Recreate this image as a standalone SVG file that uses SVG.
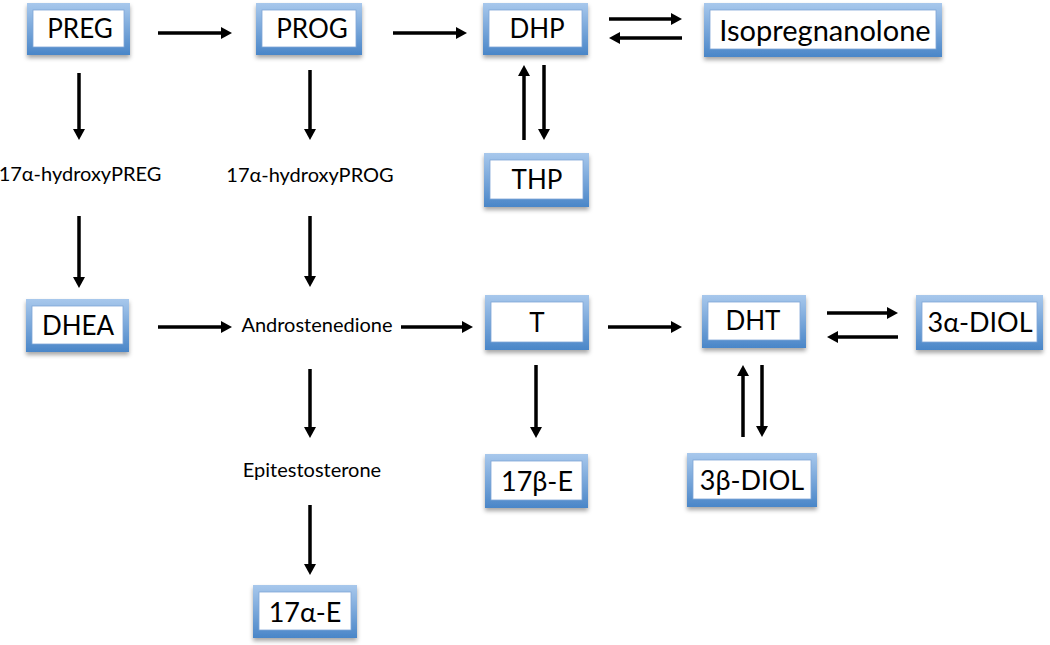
<svg xmlns="http://www.w3.org/2000/svg" width="1050" height="645" viewBox="0 0 1050 645">
<defs>
<linearGradient id="frame" x1="0" y1="0" x2="0" y2="1">
<stop offset="0" stop-color="#a8c8ec"/>
<stop offset="1" stop-color="#4a86c8"/>
</linearGradient>
<filter id="sh" x="-10%" y="-10%" width="120%" height="140%">
<feDropShadow dx="0" dy="3" stdDeviation="2" flood-color="#000" flood-opacity="0.35"/>
</filter>
<marker id="ah" markerUnits="userSpaceOnUse" markerWidth="11" markerHeight="12" viewBox="0 0 11 12" refX="0" refY="6" orient="auto">
<path d="M0,0 L11,6 L0,12 z" fill="#000"/>
</marker>
</defs>
<style>
.fr{fill:url(#frame);filter:url(#sh)}
.in{fill:#fff;stroke:#7fa6d6;stroke-width:0.8}
.bt{font-family:Lato,"Open Sans",sans-serif;font-size:26px;fill:#000;text-anchor:middle}
.st{font-family:Lato,"Open Sans",sans-serif;font-size:20px;fill:#000;text-anchor:middle}
.ar{stroke:#000;stroke-width:3.5;fill:none;marker-end:url(#ah)}
</style>
<rect width="1050" height="645" fill="#fff"/>

<g id="PREG"><rect class="fr" x="27" y="3" width="103" height="52"/><rect class="in" x="33" y="10" width="91" height="37"/><text class="bt" x="80" y="38">PREG</text></g>
<g id="PROG"><rect class="fr" x="256" y="3" width="106" height="52"/><rect class="in" x="262" y="10" width="94" height="37"/><text class="bt" x="312" y="38">PROG</text></g>
<g id="DHP"><rect class="fr" x="483" y="3" width="105" height="52"/><rect class="in" x="489" y="10" width="93" height="37"/><text class="bt" x="537" y="38">DHP</text></g>
<g id="Isopregnanolone"><rect class="fr" x="704" y="3" width="238" height="54"/><rect class="in" x="710" y="10" width="226" height="39"/><text class="bt" x="825" y="41" style="font-size:29px">Isopregnanolone</text></g>
<g id="THP"><rect class="fr" x="484" y="153" width="105" height="54"/><rect class="in" x="490" y="160" width="93" height="39"/><text class="bt" x="537" y="189">THP</text></g>
<g id="n17aOHPREG"><text class="st" x="80" y="181">17α-hydroxyPREG</text></g>
<g id="n17aOHPROG"><text class="st" x="310" y="182">17α-hydroxyPROG</text></g>
<g id="DHEA"><rect class="fr" x="26" y="299" width="103" height="53"/><rect class="in" x="32" y="306" width="91" height="38"/><text class="bt" x="78" y="335">DHEA</text></g>
<g id="Androstenedione"><text class="st" x="317" y="332">Androstenedione</text></g>
<g id="T"><rect class="fr" x="485" y="295" width="104" height="55"/><rect class="in" x="491" y="302" width="92" height="40"/><text class="bt" x="537" y="332">T</text></g>
<g id="DHT"><rect class="fr" x="702" y="295" width="104" height="53"/><rect class="in" x="708" y="302" width="92" height="38"/><text class="bt" x="753" y="330">DHT</text></g>
<g id="DIOL3a"><rect class="fr" x="916" y="295" width="127" height="55"/><rect class="in" x="922" y="302" width="115" height="40"/><text class="bt" x="980" y="332" style="font-size:27px">3α-DIOL</text></g>
<g id="Epitestosterone"><text class="st" x="312" y="477">Epitestosterone</text></g>
<g id="E17b"><rect class="fr" x="485" y="454" width="103" height="54"/><rect class="in" x="491" y="461" width="91" height="39"/><text class="bt" x="537" y="491" style="font-size:27px">17β-E</text></g>
<g id="DIOL3b"><rect class="fr" x="687" y="453" width="130" height="54"/><rect class="in" x="693" y="460" width="118" height="39"/><text class="bt" x="752" y="490" style="font-size:27px">3β-DIOL</text></g>
<g id="E17a"><rect class="fr" x="253" y="585" width="104" height="53"/><rect class="in" x="259" y="592" width="92" height="38"/><text class="bt" x="305" y="622" style="font-size:27px">17α-E</text></g>

<g id="connectors">
<line class="ar" x1="158" y1="33" x2="221" y2="33"/>
<line class="ar" x1="393" y1="33" x2="456" y2="33"/>
<line class="ar" x1="609" y1="19" x2="671" y2="19"/>
<line class="ar" x1="682" y1="38" x2="620" y2="38"/>
<line class="ar" x1="524" y1="140" x2="524" y2="76"/>
<line class="ar" x1="544" y1="65" x2="544" y2="129"/>
<line class="ar" x1="79" y1="73" x2="79" y2="129"/>
<line class="ar" x1="79" y1="216" x2="79" y2="277"/>
<line class="ar" x1="310" y1="70" x2="310" y2="129"/>
<line class="ar" x1="310" y1="216" x2="310" y2="276"/>
<line class="ar" x1="158" y1="327" x2="221" y2="327"/>
<line class="ar" x1="401" y1="327" x2="462" y2="327"/>
<line class="ar" x1="608" y1="327" x2="671" y2="327"/>
<line class="ar" x1="827" y1="313" x2="887" y2="313"/>
<line class="ar" x1="898" y1="337" x2="838" y2="337"/>
<line class="ar" x1="310" y1="369" x2="310" y2="427"/>
<line class="ar" x1="310" y1="505" x2="310" y2="564"/>
<line class="ar" x1="536" y1="365" x2="536" y2="427"/>
<line class="ar" x1="743" y1="437" x2="743" y2="376"/>
<line class="ar" x1="762" y1="365" x2="762" y2="426"/>
</g>
</svg>
